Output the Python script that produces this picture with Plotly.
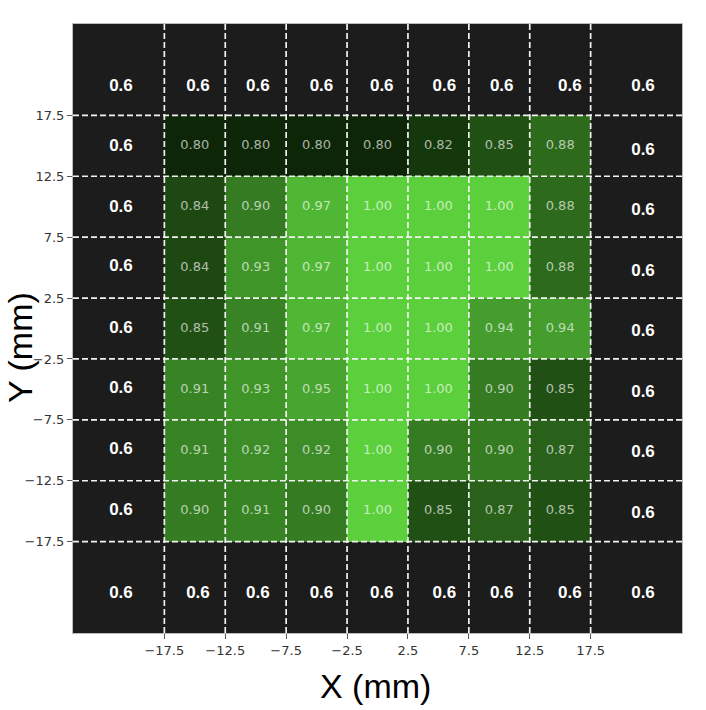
import plotly.graph_objects as go

# ---------------- data ----------------
# inner 7x7 grid centres (mm)
x_centers = [-15, -10, -5, 0, 5, 10, 15]
y_centers = [15, 10, 5, 0, -5, -10, -15]   # top row first

# inner values, rows listed from top (y=15) to bottom (y=-15)
inner_values = [
    [0.80, 0.80, 0.80, 0.80, 0.82, 0.85, 0.88],
    [0.84, 0.90, 0.97, 1.00, 1.00, 1.00, 0.88],
    [0.84, 0.93, 0.97, 1.00, 1.00, 1.00, 0.88],
    [0.85, 0.91, 0.97, 1.00, 1.00, 0.94, 0.94],
    [0.91, 0.93, 0.95, 1.00, 1.00, 0.90, 0.85],
    [0.91, 0.92, 0.92, 1.00, 0.90, 0.90, 0.87],
    [0.90, 0.91, 0.90, 1.00, 0.85, 0.87, 0.85],
]
outer_value = 0.6

# cell edges (outer ring is wider)
x_edges = [-25, -17.5, -12.5, -7.5, -2.5, 2.5, 7.5, 12.5, 17.5, 25]
y_edges = [-25, -17.5, -12.5, -7.5, -2.5, 2.5, 7.5, 12.5, 17.5, 25]

tick_vals = [-17.5, -12.5, -7.5, -2.5, 2.5, 7.5, 12.5, 17.5]
tick_text = ["\u221217.5", "\u221212.5", "\u22127.5", "\u22122.5", "2.5", "7.5", "12.5", "17.5"]

# where the outer "0.6" labels sit (data coordinates, as in the reference)
outer_row_x = [-21.06, -14.74, -9.82, -4.6, 0.35, 5.49, 10.2, 15.8, 21.8]
outer_top_y = 19.85
outer_bottom_y = -21.8
outer_left_x = -21.06
outer_left_y = [14.93, 9.9, 5.04, 0.0, -4.98, -9.93, -14.96]
outer_right_x = 21.8
outer_right_y = [14.63, 9.69, 4.63, -0.29, -5.25, -10.17, -15.2]

# ---------------- build full 9x9 z (rows bottom -> top) ----------------
n = len(x_edges) - 1
z = [[outer_value] * n for _ in range(n)]
for r, row in enumerate(inner_values):
    zr = n - 2 - r          # top inner row -> index n-2
    for c, v in enumerate(row):
        z[zr][c + 1] = v

colorscale = [
    [0.0, "#1c1c1c"], [0.499, "#1c1c1c"],
    [0.5, "#0d2607"], [1.0, "#5cd03c"],
]

fig = go.Figure()
fig.add_trace(go.Heatmap(
    x=x_edges, y=y_edges, z=z, zmin=0.6, zmax=1.0,
    colorscale=colorscale, showscale=False, hoverinfo="skip",
))

# inner value labels
ix, iy, it = [], [], []
for r, row in enumerate(inner_values):
    for c, v in enumerate(row):
        ix.append(x_centers[c]); iy.append(y_centers[r]); it.append(f"{v:.2f}")
fig.add_trace(go.Scatter(
    x=ix, y=iy, text=it, mode="text", hoverinfo="skip", showlegend=False,
    textfont=dict(family="DejaVu Sans", size=13, color="rgba(255,255,255,0.66)"),
))

# outer labels
ox = outer_row_x + outer_row_x + [outer_left_x] * len(outer_left_y) + [outer_right_x] * len(outer_right_y)
oy = [outer_top_y] * len(outer_row_x) + [outer_bottom_y] * len(outer_row_x) + outer_left_y + outer_right_y
fig.add_trace(go.Scatter(
    x=ox, y=oy, text=[f"{outer_value:.1f}"] * len(ox), mode="text",
    hoverinfo="skip", showlegend=False,
    textfont=dict(family="Liberation Sans", size=17, color="white", weight="bold"),
))

# dashed white grid lines above the heatmap
for t in tick_vals:
    fig.add_shape(type="line", xref="x", yref="paper", x0=t, x1=t, y0=0, y1=1,
                  line=dict(color="#f2f2f2", width=1.7, dash="6px,3px"), layer="above")
    fig.add_shape(type="line", xref="paper", yref="y", x0=0, x1=1, y0=t, y1=t,
                  line=dict(color="#f2f2f2", width=1.7, dash="6px,3px"), layer="above")

axis_common = dict(
    range=[-25, 25], tickmode="array", tickvals=tick_vals, ticktext=tick_text,
    showgrid=False, zeroline=False, ticks="outside", ticklen=5, tickwidth=1,
    tickcolor="#555555", showline=True, mirror=True, linecolor="#bbbbbb",
    linewidth=1, tickfont=dict(family="DejaVu Sans", size=13, color="#333333"),
)
fig.update_xaxes(**axis_common)
fig.update_yaxes(**axis_common)

fig.add_annotation(text="X (mm)", xref="paper", yref="paper", x=0.4967, y=-0.087,
                   xanchor="center", yanchor="middle", showarrow=False,
                   font=dict(family="Liberation Sans", size=34, color="black"))
fig.add_annotation(text="Y (mm)", xref="paper", yref="paper", x=-0.087, y=0.468,
                   xanchor="center", yanchor="middle", showarrow=False, textangle=-90,
                   font=dict(family="Liberation Sans", size=34, color="black"))

fig.update_layout(
    width=706, height=710, margin=dict(l=73, r=24, t=24, b=77),
    paper_bgcolor="white", plot_bgcolor="#1c1c1c", showlegend=False,
)

fig.write_html("out.html", config={"displayModeBar": False},
               post_script="document.body.style.margin='0';")
